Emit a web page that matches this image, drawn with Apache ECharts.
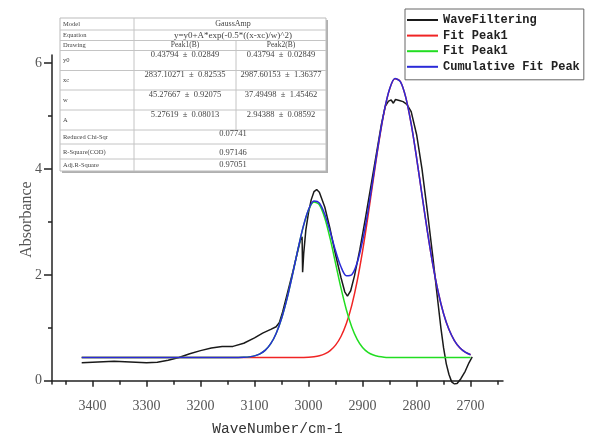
<!DOCTYPE html>
<html>
<head>
<meta charset="utf-8">
<script src="https://cdn.jsdelivr.net/npm/echarts@6.0.0/dist/echarts.min.js"></script>
<style>
  html, body { margin: 0; padding: 0; background: #fff; }
  #main { width: 592px; height: 440px; }
</style>
</head>
<body>
<div id="main"></div>
<script>
// WaveFiltering curve
var waveX = [3420, 3400, 3380, 3360, 3340, 3320, 3300, 3280, 3260, 3240, 3220, 3200, 3180, 3160, 3140, 3120, 3100, 3085, 3070, 3060,
  3054, 3048, 3040, 3030, 3020, 3015, 3012, 3011, 3009, 3005, 3000, 2995, 2990, 2985, 2980, 2970, 2960, 2950, 2940, 2933,
  2928, 2922, 2915, 2905, 2895, 2885, 2875, 2865, 2858, 2852, 2847, 2843, 2839, 2832, 2825, 2818, 2810, 2800, 2790, 2780,
  2770, 2762, 2755, 2750, 2745, 2740, 2735, 2730, 2725, 2718, 2710, 2703, 2697];
var waveY = [0.34, 0.35, 0.36, 0.37, 0.36, 0.35, 0.34, 0.35, 0.39, 0.44, 0.51, 0.57, 0.62, 0.65, 0.65, 0.71, 0.81, 0.90, 0.97, 1.02,
  1.10, 1.30, 1.62, 2.02, 2.45, 2.66, 2.72, 2.05, 2.40, 2.85, 3.18, 3.42, 3.57, 3.61, 3.56, 3.28, 2.86, 2.38, 1.95, 1.68,
  1.60, 1.70, 1.98, 2.48, 3.05, 3.65, 4.25, 4.85, 5.18, 5.28, 5.30, 5.24, 5.31, 5.29, 5.27, 5.22, 5.08, 4.65, 4.00, 3.20,
  2.35, 1.62, 1.00, 0.62, 0.32, 0.12, -0.02, -0.06, -0.05, 0.04, 0.18, 0.34, 0.45];

// fit curves, sampled points
var fitX = [3420, 3160, 3150, 3140, 3130, 3120, 3110, 3100, 3090, 3080, 3070, 3060, 3050, 3040, 3030, 3020, 3010, 3000, 2990, 2980,
  2970, 2960, 2950, 2940, 2930, 2920, 2910, 2900, 2890, 2880, 2870, 2860, 2850, 2840, 2830, 2820, 2810, 2800, 2790, 2780,
  2770, 2760, 2750, 2740, 2730, 2720, 2710, 2700];
var peak1Y = [0.438, 0.438, 0.438, 0.438, 0.438, 0.438, 0.438, 0.438, 0.438, 0.438, 0.438, 0.438, 0.438, 0.438, 0.438, 0.440, 0.442, 0.446, 0.456, 0.474,
  0.509, 0.571, 0.674, 0.837, 1.081, 1.425, 1.882, 2.449, 3.105, 3.806, 4.490, 5.081, 5.504, 5.703, 5.649, 5.351, 4.849, 4.210, 3.509, 2.821,
  2.198, 1.676, 1.267, 0.967, 0.760, 0.624, 0.541, 0.492];
var peak2Y = [0.438, 0.438, 0.438, 0.439, 0.440, 0.444, 0.452, 0.471, 0.509, 0.579, 0.701, 0.894, 1.175, 1.546, 1.991, 2.465, 2.901, 3.225, 3.376, 3.322,
  3.075, 2.683, 2.218, 1.753, 1.342, 1.017, 0.784, 0.630, 0.537, 0.486, 0.460, 0.447, 0.442, 0.440, 0.438, 0.438, 0.438, 0.438, 0.438, 0.438,
  0.438, 0.438, 0.438, 0.438, 0.438, 0.438, 0.438, 0.438];
var cumY = [0.438, 0.438, 0.438, 0.439, 0.440, 0.444, 0.452, 0.471, 0.509, 0.579, 0.701, 0.894, 1.175, 1.546, 1.991, 2.467, 2.905, 3.233, 3.394, 3.358,
  3.146, 2.816, 2.454, 2.152, 1.985, 2.004, 2.228, 2.641, 3.204, 3.854, 4.512, 5.090, 5.508, 5.705, 5.649, 5.351, 4.849, 4.210, 3.509, 2.821,
  2.198, 1.676, 1.267, 0.967, 0.760, 0.624, 0.541, 0.492];

var seriesNames = ['WaveFiltering', 'Fit Peak1', 'Fit Peak1 ', 'Cumulative Fit Peak'];
var xTicks = [3400, 3300, 3200, 3100, 3000, 2900, 2800, 2700];
var xMinorTicks = [3450, 3350, 3250, 3150, 3050, 2950, 2850, 2750, 2650];
var yTicks = [0, 2, 4, 6];
var yMinorTicks = [1, 3, 5];

// fit report table
var tableLabels = ['Model', 'Equation', 'Drawing', 'y0', 'xc', 'w', 'A', 'Reduced Chi-Sqr', 'R-Square(COD)', 'Adj.R-Square'];
var modelName = 'GaussAmp';
var equation = 'y=y0+A*exp(-0.5*((x-xc)/w)^2)';
var peakHeads = ['Peak1(B)', 'Peak2(B)'];
var peak1Params = ['0.43794  \u00b1  0.02849', '2837.10271  \u00b1  0.82535', '45.27667  \u00b1  0.92075', '5.27619  \u00b1  0.08013'];
var peak2Params = ['0.43794  \u00b1  0.02849', '2987.60153  \u00b1  1.36377', '37.49498  \u00b1  1.45462', '2.94388  \u00b1  0.08592'];
var fitStats = ['0.07741', '0.97146', '0.97051'];

function zip(xs, ys) {
  var out = [];
  for (var i = 0; i < xs.length; i++) out.push([xs[i], ys[i]]);
  return out;
}

// table layout
var tL = 60, tR = 326, tT = 18, tB = 171, c1 = 134, c2 = 236;
var rowLines = [30, 40.5, 50.5, 70.5, 90, 110, 130, 144, 159];
var labelY = [24, 35.5, 45.5, 60.5, 80.5, 100.5, 120.5, 137, 152, 165];
var paramY = [55, 75, 94.5, 115];
var statY = [134, 152.5, 165];

var lineStyleT = { stroke: '#c4c4c4', lineWidth: 1 };
var txt = { fill: '#444', fontFamily: 'Liberation Serif' };
function cell(x, y, text, size, align) {
  return { type: 'text', x: x, y: y, z: 103,
    style: Object.assign({ text: text, fontSize: size, align: align || 'center', verticalAlign: 'middle' }, txt) };
}
var g = [];
g.push({ type: 'rect', shape: { x: tL + 2, y: tT + 2, width: tR - tL, height: tB - tT }, style: { fill: '#b0b0b0' }, z: 100 });
g.push({ type: 'rect', shape: { x: tL, y: tT, width: tR - tL, height: tB - tT }, style: { fill: '#fff', stroke: '#bbb', lineWidth: 1 }, z: 101 });
rowLines.forEach(function (y) {
  g.push({ type: 'line', shape: { x1: tL, y1: y, x2: tR, y2: y }, style: lineStyleT, z: 102 });
});
g.push({ type: 'line', shape: { x1: c1, y1: tT, x2: c1, y2: tB }, style: lineStyleT, z: 102 });
g.push({ type: 'line', shape: { x1: c2, y1: 40.5, x2: c2, y2: 130 }, style: lineStyleT, z: 102 });
tableLabels.forEach(function (t, i) {
  g.push(cell(tL + 3, labelY[i], t, 6.5, 'left'));
});
var midC = (c1 + tR) / 2 + 3;
g.push(cell(midC, labelY[0], modelName, 8));
g.push(cell(midC, labelY[1], equation, 9));
g.push(cell((c1 + c2) / 2, labelY[2], peakHeads[0], 7.5));
g.push(cell((c2 + tR) / 2, labelY[2], peakHeads[1], 7.5));
for (var i = 0; i < 4; i++) {
  g.push(cell((c1 + c2) / 2, paramY[i], peak1Params[i], 8.5));
  g.push(cell((c2 + tR) / 2, paramY[i], peak2Params[i], 8.5));
}
fitStats.forEach(function (t, i) {
  g.push(cell(midC, statY[i], t, 8.5));
});

var myChart = echarts.init(document.getElementById('main'));
var xRange = { min: 2640, max: 3475 };
var yRange = { min: -0.06, max: 6.15 };

myChart.setOption({
  animation: false,
  grid: { left: 52, right: 89, top: 55, bottom: 56, outerBoundsMode: 'none' },
  legend: {
    orient: 'vertical',
    left: 405,
    top: 9,
    padding: [5, 4, 7, 2],
    borderColor: '#666',
    borderWidth: 1,
    backgroundColor: '#fff',
    itemWidth: 31,
    itemHeight: 2,
    itemGap: 3.6,
    icon: 'rect',
    data: seriesNames,
    textStyle: { fontFamily: 'Liberation Mono', fontWeight: 'bold', fontSize: 12, lineHeight: 12, color: '#222' }
  },
  xAxis: [{
    type: 'value', inverse: true, min: xRange.min, max: xRange.max,
    name: 'WaveNumber/cm-1', nameLocation: 'middle', nameGap: 38, nameMoveOverlap: false,
    nameTextStyle: { fontFamily: 'Liberation Mono', fontSize: 14.5, color: '#333' },
    axisLine: { lineStyle: { color: '#222', width: 1.5 } },
    axisTick: { length: 6, customValues: xTicks, lineStyle: { color: '#222', width: 1.5 } },
    axisLabel: { customValues: xTicks, margin: 15, fontFamily: 'Liberation Serif', fontSize: 14, color: '#555',
      formatter: function (v) { return String(v); } },
    splitLine: { show: false }
  }, {
    type: 'value', inverse: true, min: xRange.min, max: xRange.max, position: 'bottom',
    axisLine: { show: false },
    axisTick: { length: 4, customValues: xMinorTicks, lineStyle: { color: '#222', width: 1.5 } },
    axisLabel: { show: false },
    splitLine: { show: false }
  }],
  yAxis: [{
    type: 'value', min: yRange.min, max: yRange.max,
    name: 'Absorbance', nameLocation: 'middle', nameGap: 17, nameMoveOverlap: false,
    nameTextStyle: { fontFamily: 'Liberation Serif', fontSize: 16, color: '#555' },
    axisLine: { show: true, lineStyle: { color: '#222', width: 1.5 } },
    axisTick: { show: true, length: 8, customValues: yTicks, lineStyle: { color: '#222', width: 1.5 } },
    axisLabel: { customValues: yTicks, margin: 10, fontFamily: 'Liberation Serif', fontSize: 14, color: '#555' },
    splitLine: { show: false }
  }, {
    type: 'value', min: yRange.min, max: yRange.max, position: 'left',
    axisLine: { show: false },
    axisTick: { show: true, length: 4, customValues: yMinorTicks, lineStyle: { color: '#222', width: 1.5 } },
    axisLabel: { show: false },
    splitLine: { show: false }
  }],
  series: [
    { name: seriesNames[0], type: 'line', showSymbol: false, data: zip(waveX, waveY), lineStyle: { color: '#1a1a1a', width: 1.5 }, itemStyle: { color: '#1a1a1a' } },
    { name: seriesNames[1], type: 'line', showSymbol: false, smooth: 0.3, data: zip(fitX, peak1Y), lineStyle: { color: '#f02424', width: 1.5 }, itemStyle: { color: '#f02424' } },
    { name: seriesNames[2], type: 'line', showSymbol: false, smooth: 0.3, data: zip(fitX, peak2Y), lineStyle: { color: '#22dd22', width: 1.5 }, itemStyle: { color: '#22dd22' } },
    { name: seriesNames[3], type: 'line', showSymbol: false, smooth: 0.3, data: zip(fitX, cumY), lineStyle: { color: '#2a2ad8', width: 1.5 }, itemStyle: { color: '#2a2ad8' } }
  ],
  graphic: g
});
</script>
</body>
</html>
